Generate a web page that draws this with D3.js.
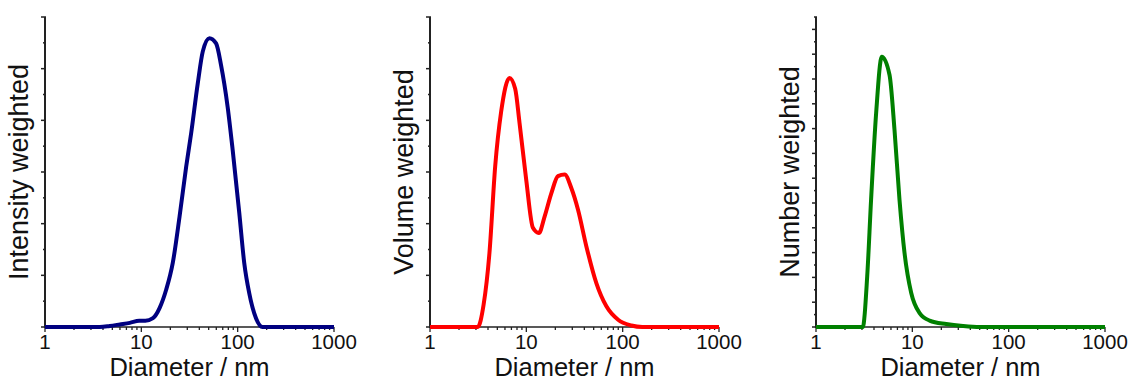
<!DOCTYPE html>
<html><head><meta charset="utf-8">
<script src="https://cdn.jsdelivr.net/npm/d3@7"></script>
<style>body{margin:0;background:#fff}svg{display:block}</style>
</head><body><svg id="c" width="1134" height="380"></svg>
<script>
const xTickLabels = ["1", "10", "100", "1000"];
const xTitle = "Diameter / nm";
const yTitles = ["Intensity weighted", "Volume weighted", "Number weighted"];
const colors = ["#000080", "#ff0000", "#008000"];

const intensityD = [1, 3.7, 4.7, 6.0, 7.6, 9.5, 11, 13.2, 15.5, 18.1, 21.2, 24.9, 29.2, 32.9, 38.5, 43.4, 50.9, 59.7, 67.2, 78.7, 88.7, 104, 117, 132, 155, 181, 1000];
const intensityV = [0, 0, 0.02, 0.05, 0.08, 0.12, 0.12, 0.17, 0.37, 0.72, 1.24, 2.13, 3.1, 3.75, 4.71, 5.33, 5.59, 5.49, 5.07, 4.26, 3.43, 2.2, 1.24, 0.65, 0.17, 0, 0];

const volumeD = [1, 3.13, 3.6, 4.14, 4.75, 5.48, 6.69, 7.66, 8.5, 9.97, 11.7, 13.5, 15.5, 18.2, 21.3, 25, 29.3, 34.4, 42, 53.3, 67.8, 89.7, 123, 160, 1000];
const volumeV = [0, 0, 0.43, 1.43, 3.11, 4.17, 4.82, 4.61, 3.95, 2.85, 1.92, 1.82, 2.14, 2.59, 2.92, 2.95, 2.69, 2.27, 1.56, 0.85, 0.40, 0.14, 0.03, 0, 0];

const numberD = [1, 3.06, 3.4, 3.73, 4.21, 4.82, 5.8, 6.53, 7.36, 8.3, 9.74, 11.9, 15.1, 22.5, 33.6, 50, 1000];
const numberV = [0, 0, 2.04, 5.13, 8.62, 10.9, 10.16, 7.95, 5.13, 2.98, 1.37, 0.56, 0.26, 0.12, 0.04, 0, 0];

const yMax = [6, 6, 12.5];

const series = [
  {d: intensityD, v: intensityV},
  {d: volumeD, v: volumeV},
  {d: numberD, v: numberV}
];

(function () {
const svg = d3.select("#c");
const lefts = [45, 430, 816];
const W = 289, yTop = 17, yBottom = 327;
const font = "'Liberation Sans', Arial, sans-serif";
const axisColor = "#222";

series.forEach((s, i) => {
  const L = lefts[i];
  const x = d3.scaleLog().domain([1, 1000]).range([L, L + W]);
  const y = d3.scaleLinear().domain([0, yMax[i]]).range([yBottom, yTop]);
  const g = svg.append("g");

  const minorY = d3.range(0, yMax[i] + 0.001, 0.5);
  g.selectAll(".ym").data(minorY).enter().append("line")
    .attr("x1", d => (d % 1 === 0) ? L - 4 : L - 2)
    .attr("x2", L + 1)
    .attr("y1", d => y(d)).attr("y2", d => y(d))
    .attr("stroke", axisColor).attr("stroke-width", 1.5);

  const xt = [];
  for (let e = 0; e < 3; e++) for (let k = 1; k < 10; k++) xt.push(k * Math.pow(10, e));
  xt.push(1000);
  g.selectAll(".xm").data(xt).enter().append("line")
    .attr("x1", d => x(d)).attr("x2", d => x(d))
    .attr("y1", yBottom)
    .attr("y2", d => xTickLabels.includes(String(d)) ? yBottom + 5 : yBottom + 3)
    .attr("stroke", axisColor).attr("stroke-width", 1.3);

  g.append("line").attr("x1", L).attr("x2", L).attr("y1", yTop).attr("y2", yBottom + 1)
    .attr("stroke", axisColor).attr("stroke-width", 2);
  g.append("line").attr("x1", L).attr("x2", L + W).attr("y1", yBottom).attr("y2", yBottom)
    .attr("stroke", axisColor).attr("stroke-width", 1.5);

  g.selectAll(".xl").data(xTickLabels).enter().append("text")
    .attr("x", d => x(+d)).attr("y", 348.5)
    .attr("text-anchor", "middle")
    .attr("font-family", font).attr("font-size", 20.5).attr("fill", "#111")
    .text(d => d);

  g.append("text").attr("x", L + W / 2).attr("y", 376)
    .attr("text-anchor", "middle").attr("font-family", font).attr("font-size", 25.5).attr("fill", "#111")
    .text(xTitle);
  g.append("text")
    .attr("transform", `translate(${L - 17},${(yTop + yBottom) / 2}) rotate(-90)`)
    .attr("text-anchor", "middle").attr("font-family", font).attr("font-size", 27).attr("fill", "#111")
    .text(yTitles[i]);

  const pts = s.d.map((d, k) => [d, s.v[k]]);
  const line = d3.line().x(p => x(p[0])).y(p => y(p[1])).curve(d3.curveMonotoneX);
  g.append("path").datum(pts).attr("d", line)
    .attr("fill", "none").attr("stroke", colors[i]).attr("stroke-width", 4)
    .attr("stroke-linejoin", "round");
});
})();
</script></body></html>
